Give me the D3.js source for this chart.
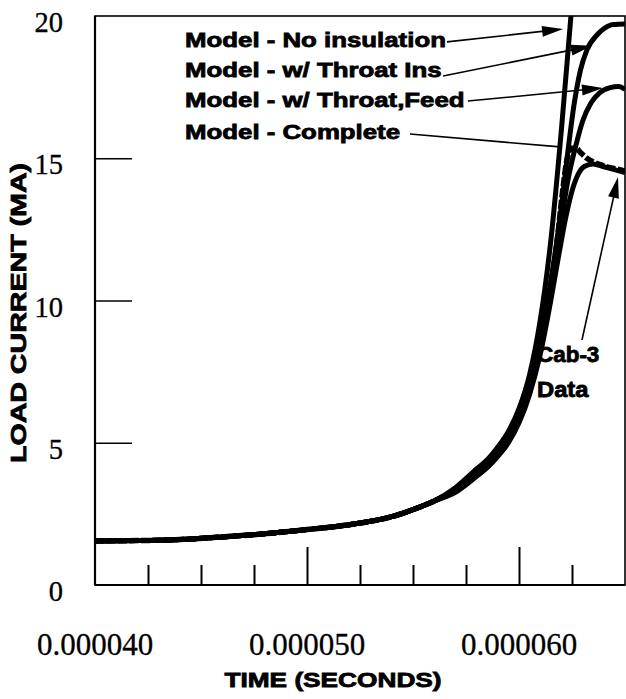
<!DOCTYPE html>
<html>
<head>
<meta charset="utf-8">
<script src="https://cdn.jsdelivr.net/npm/d3@7/dist/d3.min.js"></script>
<style>
  html, body { margin: 0; padding: 0; background: #fff; }
  svg { display: block; }
</style>
</head>
<body>
<script>
// ---------- DATA (time in microseconds, current in MA) ----------
const sharedTime    = [40, 42, 44, 46, 48, 50, 52, 54, 55, 56];
const sharedCurrent = [1.55, 1.56, 1.6, 1.69, 1.8, 1.95, 2.12, 2.4, 2.65, 2.95];

const noInsTime    = [57, 58, 58.5, 59, 59.5, 60, 60.5, 61, 61.5, 62, 62.45, 62.7];
const noInsCurrent = [3.42, 4.08, 4.4, 4.85, 5.4, 6.2, 7.4, 9.3, 12.1, 16.0, 20.0, 22.2];

const throatInsTime    = [57, 58, 58.5, 59, 59.5, 60, 60.5, 61, 61.5, 61.75, 62.0, 62.3, 62.6, 62.9, 63.2, 63.7, 64.0, 64.45, 65];
const throatInsCurrent = [3.38, 4.0, 4.3, 4.75, 5.28, 6.05, 7.2, 8.65, 10.7, 11.9, 13.3, 15.2, 16.9, 18.1, 18.8, 19.35, 19.55, 19.7, 19.72];

const throatFeedTime    = [57, 58, 58.5, 59, 59.5, 60, 60.5, 61, 61.5, 61.9, 62.3, 62.7, 63.0, 63.4, 63.8, 64.3, 64.7, 65];
const throatFeedCurrent = [3.35, 3.95, 4.25, 4.7, 5.2, 5.95, 7.05, 8.45, 10.4, 12.3, 14.2, 15.5, 16.3, 16.95, 17.3, 17.48, 17.52, 17.42];

const completeTime    = [57, 58, 58.5, 59, 59.5, 60, 60.5, 61, 61.5, 61.8, 62.05, 62.25, 62.45, 62.7, 62.9, 63.2, 63.5, 64.15, 64.75, 65];
const completeCurrent = [3.33, 3.92, 4.22, 4.66, 5.15, 5.9, 7.0, 8.45, 10.5, 12.1, 13.8, 14.9, 15.35, 15.35, 15.2, 15.0, 14.87, 14.7, 14.6, 14.55];

const cab3Time    = [57, 58, 58.5, 59, 59.5, 60, 60.5, 61, 61.5, 61.9, 62.2, 62.5, 62.8, 63.1, 63.5, 64.0, 64.5, 65];
const cab3Current = [3.26, 3.82, 4.12, 4.52, 5.0, 5.7, 6.7, 8.1, 10.0, 11.7, 12.9, 13.85, 14.45, 14.72, 14.8, 14.7, 14.6, 14.5];

const legendLabels = ["Model - No insulation", "Model - w/ Throat Ins", "Model - w/ Throat,Feed", "Model - Complete"];

const yTickValues = [0, 5, 10, 15, 20];
const yTickLabels = ["0", "5", "10", "15", "20"];
const xMajorTicks = [40, 50, 60];
const xTickLabels = ["0.000040", "0.000050", "0.000060"];
const xMinorTicks = [42.5, 45, 47.5, 52.5, 55, 57.5, 62.5];

// annotation arrows (data units): [fromTime, fromCurrent, toTime, toCurrent]
const arrowNoIns      = [56.6, 19.09, 62.08, 19.54];
const arrowThroatIns  = [56.42, 17.89, 63.44, 18.95];
const arrowThroatFeed = [57.59, 17.01, 63.96, 17.47];
const lineComplete    = [54.86, 15.85, 61.93, 15.40];
const arrowCab3       = [62.97, 8.61, 64.67, 14.34];

// ---------- CHART ----------
const W = 626, H = 699;
const svg = d3.select("body").append("svg").attr("width", W).attr("height", H);

const x = d3.scaleLinear().domain([40, 65]).range([95, 625]);
const y = d3.scaleLinear().domain([0, 20]).range([585, 16]);

const SANS = "'Liberation Sans', Arial, Helvetica, sans-serif";
const SERIF = "'Liberation Serif', 'Times New Roman', serif";

svg.append("defs").append("clipPath").attr("id", "plotclip")
  .append("rect")
  .attr("x", x(40)).attr("y", y(20))
  .attr("width", x(65) - x(40)).attr("height", y(0) - y(20));

// frame
svg.append("rect")
  .attr("x", x(40)).attr("y", y(20))
  .attr("width", x(65) - x(40)).attr("height", y(0) - y(20))
  .attr("fill", "none").attr("stroke", "#000").attr("stroke-width", 1.6);
svg.append("line")
  .attr("x1", x(40)).attr("x2", x(40)).attr("y1", y(20)).attr("y2", y(0))
  .attr("stroke", "#000").attr("stroke-width", 2.2);
svg.append("line")
  .attr("x1", x(40)).attr("x2", x(65)).attr("y1", y(0)).attr("y2", y(0))
  .attr("stroke", "#000").attr("stroke-width", 2.2);

// y ticks (inward)
const yAx = svg.append("g").attr("transform", `translate(${x(40)},0)`)
  .call(d3.axisRight(y).tickValues([5, 10, 15]).tickSize(37).tickFormat(""));
yAx.select(".domain").remove();
yAx.selectAll(".tick line").attr("stroke", "#000").attr("stroke-width", 1.6);

// x ticks (inward)
const xMinAx = svg.append("g").attr("transform", `translate(0,${y(0)})`)
  .call(d3.axisTop(x).tickValues(xMinorTicks).tickSize(20).tickFormat(""));
xMinAx.select(".domain").remove();
xMinAx.selectAll(".tick line").attr("stroke", "#000").attr("stroke-width", 2);
const xMajAx = svg.append("g").attr("transform", `translate(0,${y(0)})`)
  .call(d3.axisTop(x).tickValues(xMajorTicks.filter(v => v > 40)).tickSize(38).tickFormat(""));
xMajAx.select(".domain").remove();
xMajAx.selectAll(".tick line").attr("stroke", "#000").attr("stroke-width", 2);

// y labels
svg.append("g").selectAll("text").data(yTickValues).join("text")
  .attr("x", 63).attr("y", d => y(d) + 16)
  .attr("text-anchor", "end")
  .attr("font-family", SERIF).attr("font-size", 28.5)
  .attr("stroke", "#000").attr("stroke-width", 0.3)
  .text((d, i) => yTickLabels[i]);

// x labels
svg.append("g").selectAll("text").data(xMajorTicks).join("text")
  .attr("x", d => x(d)).attr("y", 655)
  .attr("text-anchor", "middle")
  .attr("font-family", SERIF).attr("font-size", 31)
  .attr("stroke", "#000").attr("stroke-width", 0.3)
  .text((d, i) => xTickLabels[i]);

// axis titles
svg.append("text")
  .attr("transform", "translate(333,687) scale(1.28,1)")
  .attr("text-anchor", "middle")
  .attr("font-family", SANS).attr("font-weight", "bold").attr("font-size", 20.5)
  .attr("stroke", "#000").attr("stroke-width", 0.8)
  .text("TIME (SECONDS)");
svg.append("text")
  .attr("transform", "translate(26,313) rotate(-90) scale(1.3,1)")
  .attr("text-anchor", "middle")
  .attr("font-family", SANS).attr("font-weight", "bold").attr("font-size", 22)
  .attr("stroke", "#000").attr("stroke-width", 0.8)
  .text("LOAD CURRENT (MA)");

// curves
const line = d3.line().x(d => x(d[0])).y(d => y(d[1])).curve(d3.curveMonotoneX);
function series(t, v) {
  const base = sharedTime.map((tt, i) => [tt, sharedCurrent[i]]);
  return base.concat(t.map((tt, i) => [tt, v[i]]));
}
const curves = svg.append("g").attr("clip-path", "url(#plotclip)");
const seriesList = [
  { d: series(cab3Time, cab3Current), dash: null },
  { d: series(throatFeedTime, throatFeedCurrent), dash: null },
  { d: series(throatInsTime, throatInsCurrent), dash: null },
  { d: series(noInsTime, noInsCurrent), dash: null },
  { d: series(completeTime, completeCurrent), dash: "9,2.5" }
];
seriesList.forEach(s => {
  curves.append("path").datum(s.d)
    .attr("d", line)
    .attr("fill", "none").attr("stroke", "#000")
    .attr("stroke-width", s.dash ? 5.5 : 5)
    .attr("stroke-linejoin", "round")
    .attr("stroke-dasharray", s.dash);
});

// legend texts
const legendBaselines = [47, 77, 107, 139];
svg.append("g").selectAll("text").data(legendLabels).join("text")
  .attr("transform", (d, i) => `translate(185,${legendBaselines[i]}) scale(1.26,1)`)
  .attr("font-family", SANS).attr("font-weight", "bold").attr("font-size", 20.5)
  .attr("stroke", "#000").attr("stroke-width", 0.8)
  .text(d => d);

// cab-3 label
svg.append("text").attr("transform", "translate(537,362) scale(1.02,1)")
  .attr("font-family", SANS).attr("font-weight", "bold").attr("font-size", 22)
  .attr("stroke", "#000").attr("stroke-width", 0.8).text("Cab-3");
svg.append("text").attr("transform", "translate(537,397) scale(1.08,1)")
  .attr("font-family", SANS).attr("font-weight", "bold").attr("font-size", 22)
  .attr("stroke", "#000").attr("stroke-width", 0.8).text("Data");

// arrows
const ann = svg.append("g");
function drawArrow(a, head) {
  const x1 = x(a[0]), y1 = y(a[1]), x2 = x(a[2]), y2 = y(a[3]);
  const dx = x2 - x1, dy = y2 - y1, L = Math.hypot(dx, dy);
  const ux = dx / L, uy = dy / L, nx = -uy, ny = ux;
  const len = 21, half = 5.5;
  const bx = x2 - ux * len, by = y2 - uy * len;
  ann.append("line")
    .attr("x1", x1).attr("y1", y1)
    .attr("x2", head ? bx + ux * 2 : x2).attr("y2", head ? by + uy * 2 : y2)
    .attr("stroke", "#000").attr("stroke-width", 1.6);
  if (head) {
    ann.append("path")
      .attr("d", `M${x2},${y2}L${bx + nx * half},${by + ny * half}L${bx - nx * half},${by - ny * half}Z`)
      .attr("fill", "#000");
  }
}
drawArrow(arrowNoIns, true);
drawArrow(arrowThroatIns, true);
drawArrow(arrowThroatFeed, true);
drawArrow(lineComplete, false);
drawArrow(arrowCab3, true);
</script>
</body>
</html>
